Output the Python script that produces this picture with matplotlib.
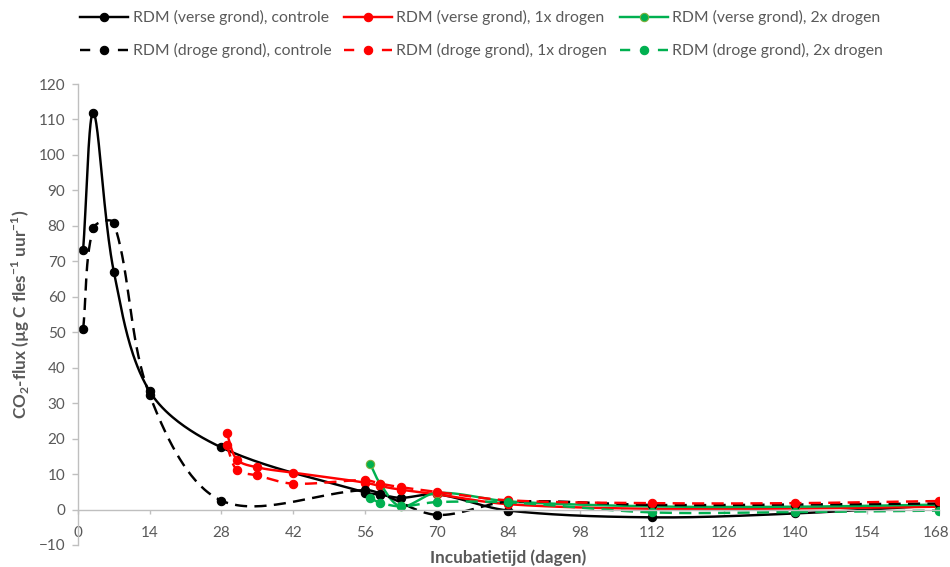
import numpy as np
import matplotlib
matplotlib.use('Agg')
import matplotlib.pyplot as plt
import matplotlib.transforms as mtransforms

plt.rcParams['font.family'] = ['Lato', 'DejaVu Sans']
plt.rcParams['mathtext.fontset'] = 'custom'
plt.rcParams['mathtext.rm'] = 'Lato'
plt.rcParams['mathtext.bf'] = 'Lato:bold'

# days of incubation and CO2 flux (ug C fles-1 uur-1)
x_ctrl = [1, 3, 7, 14, 28, 56, 59, 63, 70, 84, 112, 140, 168]
verse_ctrl = [73.2, 111.9, 67.0, 33.3, 17.5, 4.8, 4.2, 3.3, 4.3, -0.3, -2.2, -1.1, 1.2]
x_ctrl_d = [1, 3, 7, 14, 28, 56, 59, 70, 84, 112, 140, 168]
droge_ctrl = [50.8, 79.4, 80.8, 32.2, 2.5, 5.5, 4.5, -1.5, 2.2, 1.3, 1.4, 1.7]

x_1x = [29, 31, 35, 42, 56, 59, 63, 70, 84, 112, 140, 168]
verse_1x = [21.7, 14.1, 11.9, 10.4, 7.6, 6.6, 5.6, 4.3, 1.5, 0.2, 0.3, 0.8]
droge_1x = [18.2, 11.2, 9.6, 7.3, 8.3, 7.3, 6.3, 5.0, 2.6, 1.8, 1.8, 2.4]

x_2x = [57, 59, 63, 70, 84, 112, 140, 168]
verse_2x = [12.9, 7.2, 0.9, 4.7, 2.3, 0.9, 0.8, 1.4]
droge_2x = [3.2, 1.9, 0.9, 2.1, 2.0, -0.8, -0.7, -0.3]

labels = ['RDM (verse grond), controle', 'RDM (verse grond), 1x drogen',
          'RDM (verse grond), 2x drogen', 'RDM (droge grond), controle',
          'RDM (droge grond), 1x drogen', 'RDM (droge grond), 2x drogen']

x_ticks = list(range(0, 169, 14))
y_ticks = list(range(-10, 121, 10))

GRAY = '#595959'
GREEN = '#00B050'
XPX, YPX = 861 / 168, 461 / 130  # pixels per unit, used to smooth in screen space


def smooth(x, y, n=40):
    # Excel-like smoothed line: bezier segments, tangents weighted by segment length
    p = np.column_stack([np.asarray(x, float) * XPX, np.asarray(y, float) * YPX])
    p = np.vstack([p[0], p, p[-1]])
    t = np.linspace(0, 1, n)[:, None]
    out = []
    for i in range(1, len(p) - 2):
        p0, p1, p2, p3 = p[i - 1], p[i], p[i + 1], p[i + 2]
        d01 = np.hypot(*(p1 - p0))
        d12 = np.hypot(*(p2 - p1))
        d23 = np.hypot(*(p3 - p2))
        c1 = p1 + (p2 - p0) * d12 / max(d01 + d12, 1e-9) / 3
        c2 = p2 - (p3 - p1) * d12 / max(d12 + d23, 1e-9) / 3
        b = (1 - t) ** 3 * p1 + 3 * (1 - t) ** 2 * t * c1 + 3 * (1 - t) * t ** 2 * c2 + t ** 3 * p2
        out.append(b)
    b = np.vstack(out)
    return b[:, 0] / XPX, b[:, 1] / YPX


fig = plt.figure(figsize=(9.5, 5.67), dpi=100)
ax = fig.add_axes([78 / 950, 1 - 545 / 567, 861 / 950, 461 / 567])

series = [
    (x_ctrl, verse_ctrl, 'black', 'black', '-'),
    (x_1x, verse_1x, 'red', 'red', '-'),
    (x_2x, verse_2x, GREEN, '#7FAF3A', '-'),
    (x_ctrl_d, droge_ctrl, 'black', 'black', '--'),
    (x_1x, droge_1x, 'red', 'red', '--'),
    (x_2x, droge_2x, GREEN, GREEN, '--'),
]

handles = []
for (xs, ys, col, edge, ls), lab in zip(series, labels):
    sx, sy = smooth(xs, ys)
    if ls == '--':
        ax.plot(sx, sy, color=col, lw=1.75, ls='--', dashes=(5, 3))
    else:
        ax.plot(sx, sy, color=col, lw=1.75)
    ax.plot(xs, ys, ls='none', marker='o', ms=6, mfc=col, mec=edge, mew=0.8)
    if ls == '--':
        h, = ax.plot([], [], color=col, lw=1.75, ls='--', dashes=(4.2, 11.4),
                     marker='o', ms=6, mfc=col, mec=edge, mew=0.8)
    else:
        h, = ax.plot([], [], color=col, lw=1.75, marker='o', ms=6, mfc=col, mec=edge, mew=0.8)
    handles.append(h)

ax.set_xlim(0, 168)
ax.set_ylim(-10, 120)
ax.set_xticks(x_ticks)
ax.set_yticks(y_ticks)

for s in ['top', 'right']:
    ax.spines[s].set_visible(False)
ax.spines['bottom'].set_position(('data', 0))
for s in ['left', 'bottom']:
    ax.spines[s].set_color('#BFBFBF')
    ax.spines[s].set_linewidth(1.0)
ax.tick_params(axis='both', colors='#BFBFBF', labelcolor=GRAY, labelsize=11, width=1)
ax.tick_params(axis='x', length=3, pad=8.5)
ax.tick_params(axis='y', length=4, pad=5)

# keep the last x label inside the canvas
last = ax.get_xticklabels()[-1]
last.set_transform(last.get_transform() + mtransforms.ScaledTranslation(-3 / 100, 0, fig.dpi_scale_trans))

ax.set_xlabel('Incubatietijd (dagen)', fontsize=12.3, fontweight='bold', color=GRAY)
ax.xaxis.set_label_coords(0.5, -0.028)
ax.xaxis.label.set_verticalalignment('center')
ax.set_ylabel('CO$_\\mathbf{2}$-flux (µg C fles$^{\\mathbf{-1}}$ uur$^{\\mathbf{-1}}$)',
              fontsize=12.3, fontweight='bold', color=GRAY)
ax.yaxis.set_label_coords(-0.067, 0.5)
ax.yaxis.label.set_verticalalignment('center')

order = [0, 3, 1, 4, 2, 5]
leg = fig.legend([handles[i] for i in order], [labels[i] for i in order],
                 ncol=3, loc='upper left', bbox_to_anchor=(80 / 950, 1 - 10 / 567),
                 frameon=False, fontsize=11.3, handlelength=3.05, handletextpad=0.3,
                 columnspacing=0.8, labelspacing=1.15, borderaxespad=0, borderpad=0)
for t in leg.get_texts():
    t.set_color(GRAY)

fig.savefig('out.png', dpi=100)
